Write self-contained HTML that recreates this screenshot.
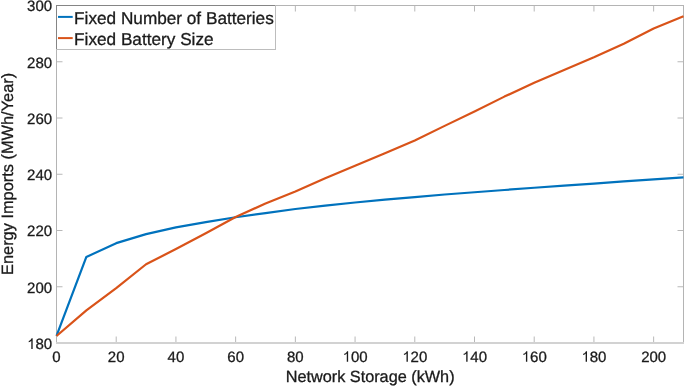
<!DOCTYPE html>
<html><head><meta charset="utf-8"><style>
html,body{margin:0;padding:0;background:#fff;width:685px;height:387px;overflow:hidden}
svg{display:block;will-change:transform;text-rendering:geometricPrecision}
</style></head><body>
<svg width="685" height="387" viewBox="0 0 685 387"><rect width="685" height="387" fill="#fff"/><g fill="#b4b4b4" shape-rendering="crispEdges"><rect x="56" y="5" width="628" height="1"/><rect x="56" y="5" width="1" height="338"/><rect x="683" y="5" width="1" height="338"/></g><rect x="56" y="342" width="628" height="2" fill="#d2d2d2" shape-rendering="crispEdges"/><path d="M116.21,342v-5.5M116.21,6v5.5M175.93,342v-5.5M175.93,6v5.5M235.64,342v-5.5M235.64,6v5.5M295.36,342v-5.5M295.36,6v5.5M355.07,342v-5.5M355.07,6v5.5M414.79,342v-5.5M414.79,6v5.5M474.50,342v-5.5M474.50,6v5.5M534.21,342v-5.5M534.21,6v5.5M593.93,342v-5.5M593.93,6v5.5M653.64,342v-5.5M653.64,6v5.5M57,286.75h5.5M683,286.75h-5.5M57,230.50h5.5M683,230.50h-5.5M57,174.25h5.5M683,174.25h-5.5M57,118.00h5.5M683,118.00h-5.5M57,61.75h5.5M683,61.75h-5.5" stroke="#b8b8b8" stroke-width="1" fill="none"/><g fill="none" stroke-width="2.2" stroke-linejoin="round"><polyline stroke="#0072BD" points="56.50,335.97 86.36,256.94 116.21,243.16 146.07,234.16 175.93,227.41 205.79,222.20 235.64,217.28 265.50,213.06 295.36,208.98 325.21,205.61 355.07,202.52 384.93,199.70 414.79,197.03 444.64,194.50 474.50,192.25 504.36,190.00 534.21,187.75 564.07,185.64 593.93,183.53 623.79,181.28 653.64,179.31 683.50,177.34"/><polyline stroke="#D95319" points="56.50,335.97 86.36,310.38 116.21,288.16 146.07,264.25 175.93,249.06 205.79,233.31 235.64,217.00 265.50,203.50 295.36,191.41 325.21,178.19 355.07,165.81 384.93,153.16 414.79,140.50 444.64,125.88 474.50,111.53 504.36,96.62 534.21,82.84 564.07,69.91 593.93,57.25 623.79,43.75 653.64,28.56 683.50,16.19"/></g><g transform="translate(52.33,361.80) scale(1.0,1.0)"><text x="0" y="0" font-family="Liberation Sans, sans-serif" font-size="15" fill="#1a1a1a" stroke="#1a1a1a" stroke-width="0.3" xml:space="preserve">0</text></g><g transform="translate(107.87,361.80) scale(1.0,1.0)"><text x="0" y="0" font-family="Liberation Sans, sans-serif" font-size="15" fill="#1a1a1a" stroke="#1a1a1a" stroke-width="0.3" xml:space="preserve">20</text></g><g transform="translate(167.59,361.80) scale(1.0,1.0)"><text x="0" y="0" font-family="Liberation Sans, sans-serif" font-size="15" fill="#1a1a1a" stroke="#1a1a1a" stroke-width="0.3" xml:space="preserve">40</text></g><g transform="translate(227.30,361.80) scale(1.0,1.0)"><text x="0" y="0" font-family="Liberation Sans, sans-serif" font-size="15" fill="#1a1a1a" stroke="#1a1a1a" stroke-width="0.3" xml:space="preserve">60</text></g><g transform="translate(287.02,361.80) scale(1.0,1.0)"><text x="0" y="0" font-family="Liberation Sans, sans-serif" font-size="15" fill="#1a1a1a" stroke="#1a1a1a" stroke-width="0.3" xml:space="preserve">80</text></g><g transform="translate(342.56,361.80) scale(1.0,1.0)"><text x="0" y="0" font-family="Liberation Sans, sans-serif" font-size="15" fill="#1a1a1a" stroke="#1a1a1a" stroke-width="0.3" xml:space="preserve"> 00</text><path transform="translate(0.00,0) scale(0.01500,-0.01500)" d="M372,0L372,709L300,709C280,630 215,570 110,530L110,450C185,470 245,505 282,550L282,0Z" fill="#1a1a1a"/></g><g transform="translate(402.28,361.80) scale(1.0,1.0)"><text x="0" y="0" font-family="Liberation Sans, sans-serif" font-size="15" fill="#1a1a1a" stroke="#1a1a1a" stroke-width="0.3" xml:space="preserve"> 20</text><path transform="translate(0.00,0) scale(0.01500,-0.01500)" d="M372,0L372,709L300,709C280,630 215,570 110,530L110,450C185,470 245,505 282,550L282,0Z" fill="#1a1a1a"/></g><g transform="translate(461.99,361.80) scale(1.0,1.0)"><text x="0" y="0" font-family="Liberation Sans, sans-serif" font-size="15" fill="#1a1a1a" stroke="#1a1a1a" stroke-width="0.3" xml:space="preserve"> 40</text><path transform="translate(0.00,0) scale(0.01500,-0.01500)" d="M372,0L372,709L300,709C280,630 215,570 110,530L110,450C185,470 245,505 282,550L282,0Z" fill="#1a1a1a"/></g><g transform="translate(521.70,361.80) scale(1.0,1.0)"><text x="0" y="0" font-family="Liberation Sans, sans-serif" font-size="15" fill="#1a1a1a" stroke="#1a1a1a" stroke-width="0.3" xml:space="preserve"> 60</text><path transform="translate(0.00,0) scale(0.01500,-0.01500)" d="M372,0L372,709L300,709C280,630 215,570 110,530L110,450C185,470 245,505 282,550L282,0Z" fill="#1a1a1a"/></g><g transform="translate(581.42,361.80) scale(1.0,1.0)"><text x="0" y="0" font-family="Liberation Sans, sans-serif" font-size="15" fill="#1a1a1a" stroke="#1a1a1a" stroke-width="0.3" xml:space="preserve"> 80</text><path transform="translate(0.00,0) scale(0.01500,-0.01500)" d="M372,0L372,709L300,709C280,630 215,570 110,530L110,450C185,470 245,505 282,550L282,0Z" fill="#1a1a1a"/></g><g transform="translate(641.13,361.80) scale(1.0,1.0)"><text x="0" y="0" font-family="Liberation Sans, sans-serif" font-size="15" fill="#1a1a1a" stroke="#1a1a1a" stroke-width="0.3" xml:space="preserve">200</text></g><g transform="translate(27.08,348.90) scale(1.0,1.0)"><text x="0" y="0" font-family="Liberation Sans, sans-serif" font-size="15" fill="#1a1a1a" stroke="#1a1a1a" stroke-width="0.3" xml:space="preserve"> 80</text><path transform="translate(0.00,0) scale(0.01500,-0.01500)" d="M372,0L372,709L300,709C280,630 215,570 110,530L110,450C185,470 245,505 282,550L282,0Z" fill="#1a1a1a"/></g><g transform="translate(27.08,292.65) scale(1.0,1.0)"><text x="0" y="0" font-family="Liberation Sans, sans-serif" font-size="15" fill="#1a1a1a" stroke="#1a1a1a" stroke-width="0.3" xml:space="preserve">200</text></g><g transform="translate(27.08,236.40) scale(1.0,1.0)"><text x="0" y="0" font-family="Liberation Sans, sans-serif" font-size="15" fill="#1a1a1a" stroke="#1a1a1a" stroke-width="0.3" xml:space="preserve">220</text></g><g transform="translate(27.08,180.15) scale(1.0,1.0)"><text x="0" y="0" font-family="Liberation Sans, sans-serif" font-size="15" fill="#1a1a1a" stroke="#1a1a1a" stroke-width="0.3" xml:space="preserve">240</text></g><g transform="translate(27.08,123.90) scale(1.0,1.0)"><text x="0" y="0" font-family="Liberation Sans, sans-serif" font-size="15" fill="#1a1a1a" stroke="#1a1a1a" stroke-width="0.3" xml:space="preserve">260</text></g><g transform="translate(27.08,67.65) scale(1.0,1.0)"><text x="0" y="0" font-family="Liberation Sans, sans-serif" font-size="15" fill="#1a1a1a" stroke="#1a1a1a" stroke-width="0.3" xml:space="preserve">280</text></g><g transform="translate(27.08,11.40) scale(1.0,1.0)"><text x="0" y="0" font-family="Liberation Sans, sans-serif" font-size="15" fill="#1a1a1a" stroke="#1a1a1a" stroke-width="0.3" xml:space="preserve">300</text></g><text x="370.15" y="381.9" font-family="Liberation Sans, sans-serif" font-size="16.25" fill="#1a1a1a" stroke="#1a1a1a" stroke-width="0.3" text-anchor="middle">Network Storage (kWh)</text><text transform="translate(12.5,173.9) rotate(-90)" font-family="Liberation Sans, sans-serif" font-size="16.36" fill="#1a1a1a" stroke="#1a1a1a" stroke-width="0.3" text-anchor="middle">Energy Imports (MWh/Year)</text><rect x="56" y="5" width="220" height="45" fill="#fff" shape-rendering="crispEdges"/><g shape-rendering="crispEdges"><rect x="56" y="5" width="220" height="1" fill="#858585"/><rect x="56" y="5" width="1" height="44" fill="#858585"/><rect x="275" y="5" width="1" height="44" fill="#bdbdbd"/><rect x="56" y="49" width="220" height="1" fill="#bdbdbd"/></g><line x1="58" y1="16.9" x2="72.7" y2="16.9" stroke="#0072BD" stroke-width="2"/><line x1="58" y1="38.1" x2="72.7" y2="38.1" stroke="#D95319" stroke-width="2"/><g font-family="Liberation Sans, sans-serif" fill="#1a1a1a" stroke="#1a1a1a" stroke-width="0.3" font-size="17.2"><g transform="translate(74.1,23.8) scale(1,1.0)"><text>Fixed Number of Batteries</text></g><g transform="translate(74.1,44.8) scale(1,1.0)"><text>Fixed Battery Size</text></g></g></svg>
</body></html>
